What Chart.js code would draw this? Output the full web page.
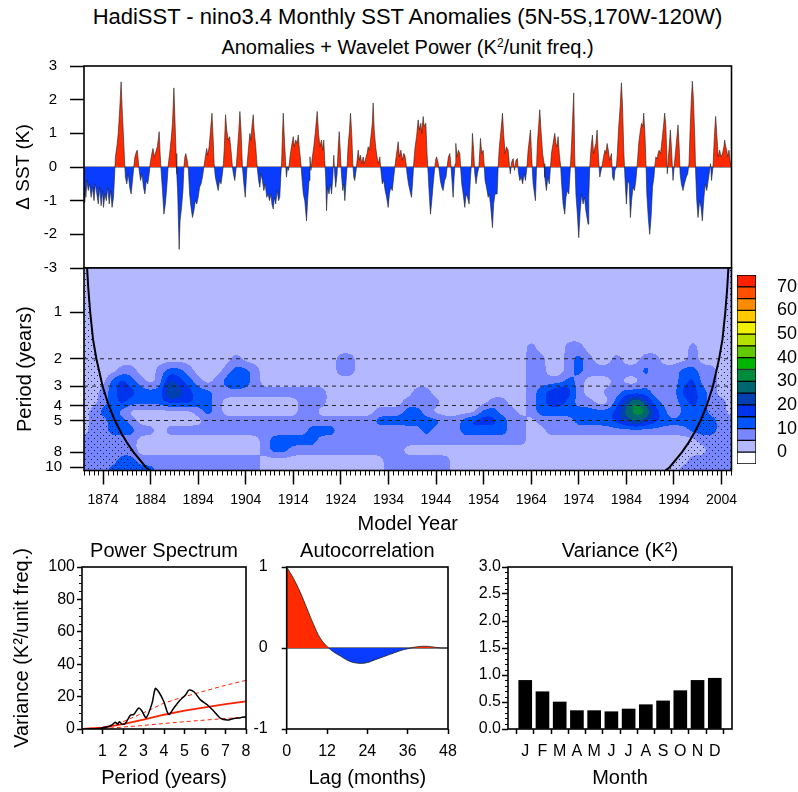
<!DOCTYPE html>
<html>
<head>
<meta charset="utf-8">
<script src="https://cdn.jsdelivr.net/npm/chart.js@4.4.1/dist/chart.umd.min.js"></script>
<style>
  body { margin: 0; background: #fff; width: 798px; height: 792px; position: relative; overflow: hidden;
         font-family: "Liberation Sans", Arial, Helvetica, sans-serif; }
  canvas { position: absolute; }
  .head { position: absolute; left: 0; width: 815px; text-align: center; white-space: nowrap; color: #000; }
  .head sup { font-size: 0.6em; vertical-align: 0.6em; line-height: 0; }
</style>
</head>
<body>
<div class="head" style="top:5px;font-size:22px;line-height:24px">HadiSST - nino3.4 Monthly SST Anomalies (5N-5S,170W-120W)</div>
<div class="head" style="top:36px;font-size:20px;line-height:22px">Anomalies + Wavelet Power (K<sup>2</sup>/unit freq.)</div>

<canvas id="anom" width="745" height="220" style="left:0;top:56px"></canvas>
<canvas id="wave" width="745" height="280" style="left:0;top:260px"></canvas>
<canvas id="cbar" width="68" height="204" style="left:730px;top:268px"></canvas>
<canvas id="spec" width="260" height="262" style="left:0;top:530px"></canvas>
<canvas id="acor" width="225" height="262" style="left:245px;top:530px"></canvas>
<canvas id="vari" width="338" height="262" style="left:460px;top:530px"></canvas>

<script>
// ---- data ----

// monthly SST anomaly (K), [year, value]
const anomalySeries = [
  [1870.0,-1.05],[1870.2,-0.6],[1870.4,-0.9],[1870.6,-0.4],[1870.9,-0.7],[1871.2,-0.5],[1871.5,-0.9],[1871.8,-0.6],
  [1872.1,-1.0],[1872.4,-0.5],[1872.7,-0.8],[1873.0,-1.1],[1873.3,-0.6],[1873.6,-1.15],[1873.9,-0.7],[1874.1,-1.2],
  [1874.4,-0.8],[1874.7,-1.0],[1875.0,-0.6],[1875.3,-1.1],[1875.6,-0.7],[1875.9,-1.2],[1876.2,-0.9],[1876.45,-0.2],
  [1876.6,0.3],[1876.9,0.6],[1877.2,1.0],[1877.5,1.7],[1877.8,2.53],[1878.0,1.8],[1878.3,0.9],[1878.55,0.1],
  [1878.7,-0.3],[1879.0,-0.5],[1879.3,-0.2],[1879.6,-0.6],[1879.9,-0.8],[1880.2,-0.4],[1880.5,0.05],[1880.7,0.3],
  [1881.0,0.45],[1881.2,0.5],[1881.4,0.2],[1881.6,-0.1],[1881.9,-0.4],[1882.2,-0.2],[1882.5,-0.6],[1882.8,-0.8],
  [1883.1,-0.4],[1883.4,-0.5],[1883.7,-0.2],[1883.9,0.1],[1884.2,0.35],[1884.5,0.55],[1884.8,0.3],[1885.1,0.45],
  [1885.4,0.6],[1885.6,0.8],[1885.8,1.05],[1886.0,0.4],[1886.2,-0.1],[1886.5,-0.7],[1886.8,-1.4],[1887.1,-1.1],
  [1887.4,-0.6],[1887.7,0.05],[1888.0,0.4],[1888.3,0.8],[1888.6,1.3],[1888.9,2.35],[1889.1,1.5],[1889.35,0.4],
  [1889.5,-0.2],[1889.7,-0.8],[1890.0,-2.45],[1890.2,-1.6],[1890.5,-1.2],[1890.8,-0.7],[1891.0,0.0],[1891.2,0.3],
  [1891.4,0.4],[1891.7,0.2],[1891.95,-0.1],[1892.2,-0.8],[1892.5,-1.2],[1892.8,-1.5],[1893.1,-1.3],[1893.4,-1.0],
  [1893.7,-1.1],[1894.0,-0.9],[1894.3,-0.6],[1894.6,-0.5],[1894.9,-0.3],[1895.2,0.0],[1895.5,0.3],[1895.8,0.55],
  [1896.0,0.35],[1896.3,0.6],[1896.6,1.1],[1896.9,1.6],[1897.1,1.0],[1897.35,0.1],[1897.6,-0.3],[1897.9,-0.5],
  [1898.2,-0.7],[1898.5,-0.4],[1898.8,-0.5],[1899.1,-0.2],[1899.3,0.1],[1899.5,0.6],[1899.75,1.55],[1900.0,1.1],
  [1900.3,0.8],[1900.6,0.9],[1900.9,0.5],[1901.2,0.0],[1901.4,-0.2],[1901.7,-0.4],[1902.0,0.0],[1902.3,0.6],
  [1902.55,1.1],[1902.77,1.65],[1903.0,1.1],[1903.3,0.0],[1903.6,-0.5],[1903.9,-0.9],[1904.1,-0.4],[1904.3,0.1],
  [1904.6,0.6],[1904.87,1.0],[1905.1,0.8],[1905.3,1.2],[1905.57,1.55],[1905.75,1.1],[1905.92,1.1],[1906.1,0.6],
  [1906.4,0.0],[1906.7,-0.4],[1906.97,-0.6],[1907.2,-0.2],[1907.5,-0.4],[1907.8,-0.7],[1908.1,-0.5],[1908.4,-0.9],
  [1908.7,-0.8],[1909.0,-1.0],[1909.3,-0.8],[1909.5,-1.1],[1909.78,-1.25],[1910.0,-0.9],[1910.3,-1.1],[1910.6,-0.7],
  [1910.9,-1.0],[1911.15,-0.9],[1911.4,-0.2],[1911.55,0.2],[1911.7,0.9],[1911.88,1.6],[1912.1,0.9],[1912.35,0.2],
  [1912.55,-0.3],[1912.8,0.0],[1913.0,-0.1],[1913.3,0.3],[1913.6,0.6],[1913.98,0.9],[1914.2,0.6],[1914.5,0.8],
  [1914.8,0.7],[1915.03,0.95],[1915.3,0.5],[1915.6,0.1],[1915.8,-0.3],[1916.1,-0.8],[1916.4,-1.0],[1916.78,-1.6],
  [1917.0,-1.0],[1917.3,-0.4],[1917.5,0.3],[1917.7,-0.1],[1918.0,0.3],[1918.3,0.6],[1918.6,1.0],[1919.02,1.65],
  [1919.3,1.0],[1919.6,0.6],[1919.9,0.8],[1920.2,0.5],[1920.4,0.8],[1920.6,0.2],[1920.8,-0.3],[1920.98,-1.3],
  [1921.2,-0.6],[1921.5,-0.8],[1921.8,-0.5],[1922.03,-0.8],[1922.3,-0.3],[1922.5,0.35],[1922.7,-0.2],[1922.9,-0.6],
  [1923.2,-0.2],[1923.4,0.5],[1923.64,1.05],[1923.9,0.4],[1924.1,-0.2],[1924.4,-0.7],[1924.6,-0.5],[1924.83,-1.0],
  [1925.0,-0.6],[1925.3,0.0],[1925.5,0.6],[1925.8,1.1],[1926.02,1.6],[1926.3,0.9],[1926.5,0.1],[1926.7,-0.3],
  [1926.9,-0.4],[1927.2,-0.1],[1927.4,0.2],[1927.63,0.5],[1927.9,0.2],[1928.1,0.35],[1928.4,0.1],[1928.68,0.3],
  [1928.9,0.1],[1929.2,0.25],[1929.5,0.4],[1929.73,0.6],[1930.0,0.5],[1930.3,0.9],[1930.6,1.3],[1930.78,1.9],
  [1931.0,1.1],[1931.3,0.6],[1931.6,0.3],[1931.9,0.1],[1932.18,0.3],[1932.4,-0.1],[1932.7,-0.5],[1933.0,-0.4],
  [1933.3,-0.7],[1933.6,-0.9],[1933.94,-1.2],[1934.2,-0.8],[1934.5,-0.6],[1934.8,-0.7],[1935.1,-0.3],[1935.34,0.0],
  [1935.6,0.3],[1935.8,0.5],[1936.04,0.75],[1936.3,0.3],[1936.6,0.5],[1936.9,0.2],[1937.2,0.4],[1937.44,0.35],
  [1937.7,0.1],[1937.9,-0.2],[1938.2,-0.5],[1938.5,-0.7],[1938.84,-0.9],[1939.1,-0.4],[1939.3,0.1],[1939.6,0.6],
  [1939.9,0.9],[1940.24,1.4],[1940.5,1.1],[1940.8,1.3],[1941.0,1.0],[1941.29,1.5],[1941.5,1.2],[1941.85,1.3],
  [1942.1,0.4],[1942.34,-0.2],[1942.6,-0.9],[1942.83,-1.4],[1943.1,-1.0],[1943.4,-0.5],[1943.74,0.0],[1943.9,0.2],
  [1944.1,0.3],[1944.4,0.15],[1944.65,-0.1],[1944.9,-0.4],[1945.2,-0.6],[1945.49,-0.7],[1945.8,-0.4],[1946.1,-0.3],
  [1946.4,0.1],[1946.6,0.3],[1946.89,0.4],[1947.1,0.1],[1947.3,-0.3],[1947.59,-0.9],[1947.8,-0.3],[1948.0,0.1],
  [1948.15,0.7],[1948.4,0.3],[1948.7,0.5],[1948.99,0.4],[1949.2,-0.1],[1949.4,-0.5],[1949.7,-0.8],[1950.04,-1.2],
  [1950.3,-0.8],[1950.6,-0.9],[1950.95,-1.1],[1951.2,-0.4],[1951.44,0.1],[1951.65,1.0],[1951.9,0.5],[1952.14,-0.2],
  [1952.4,-0.5],[1952.7,-0.2],[1953.0,0.0],[1953.34,0.85],[1953.6,0.4],[1953.9,0.5],[1954.1,0.1],[1954.3,-0.4],
  [1954.6,-0.6],[1954.95,-0.9],[1955.2,-0.8],[1955.5,-1.2],[1955.86,-1.8],[1956.1,-1.1],[1956.4,-0.8],[1956.84,-0.8],
  [1957.05,0.0],[1957.3,0.6],[1957.6,1.0],[1957.96,1.6],[1958.2,1.0],[1958.5,0.4],[1958.8,0.6],[1959.15,0.5],
  [1959.4,0.1],[1959.6,-0.2],[1959.9,0.15],[1960.2,0.25],[1960.5,-0.1],[1960.8,0.2],[1961.1,0.25],[1961.3,-0.15],
  [1961.6,-0.4],[1961.9,-0.3],[1962.2,-0.5],[1962.5,-0.2],[1962.8,-0.4],[1963.1,0.0],[1963.35,0.5],[1963.6,0.8],
  [1963.84,1.1],[1964.1,0.3],[1964.4,-0.5],[1964.89,-1.0],[1965.1,-0.1],[1965.3,0.7],[1965.55,1.2],[1965.8,1.7],
  [1966.1,1.0],[1966.4,0.4],[1966.7,0.1],[1966.85,-0.3],[1967.2,-0.7],[1967.5,-0.3],[1967.8,-0.5],[1968.0,-0.1],
  [1968.25,0.4],[1968.6,0.7],[1968.95,1.0],[1969.2,0.7],[1969.4,0.6],[1969.65,0.9],[1969.9,0.4],[1970.2,0.0],
  [1970.35,-0.4],[1970.7,-1.1],[1971.05,-1.4],[1971.3,-0.9],[1971.6,-0.7],[1971.9,-0.8],[1972.2,-0.1],[1972.45,0.6],
  [1972.7,1.4],[1972.94,2.2],[1973.15,0.3],[1973.4,-0.8],[1973.7,-1.4],[1973.99,-2.1],[1974.3,-1.3],[1974.6,-0.8],
  [1974.9,-1.1],[1975.2,-0.9],[1975.5,-1.3],[1975.95,-1.7],[1976.1,-0.9],[1976.3,0.0],[1976.6,0.6],[1976.87,0.95],
  [1977.1,0.4],[1977.4,0.6],[1977.6,0.7],[1977.85,1.1],[1978.1,0.4],[1978.41,-0.3],[1978.7,-0.1],[1978.97,0.1],
  [1979.2,0.3],[1979.5,0.5],[1979.7,0.4],[1979.95,0.7],[1980.2,0.5],[1980.5,0.2],[1980.86,0.4],[1981.1,-0.3],
  [1981.4,-0.4],[1981.6,-0.1],[1981.91,0.0],[1982.1,0.4],[1982.4,1.2],[1982.7,1.8],[1982.96,2.5],[1983.2,1.8],
  [1983.45,0.5],[1983.7,-0.3],[1984.01,-1.1],[1984.3,-0.4],[1984.6,-0.5],[1984.85,-1.5],[1985.1,-1.0],[1985.4,-0.6],
  [1985.7,-0.7],[1986.0,-0.4],[1986.3,0.1],[1986.6,0.7],[1986.95,1.1],[1987.2,1.3],[1987.45,1.2],[1987.65,1.6],
  [1987.9,1.0],[1988.1,0.2],[1988.3,-0.8],[1988.6,-1.5],[1988.91,-2.0],[1989.2,-1.5],[1989.5,-0.6],[1989.8,-0.3],
  [1989.96,0.0],[1990.2,0.3],[1990.5,0.25],[1990.66,0.4],[1990.9,0.5],[1991.2,0.4],[1991.5,0.8],[1991.8,1.2],
  [1992.06,1.6],[1992.3,1.2],[1992.5,0.4],[1992.6,-0.2],[1992.8,0.2],[1993.25,1.1],[1993.5,0.5],[1993.81,-0.4],
  [1994.1,0.1],[1994.5,0.7],[1994.86,1.25],[1995.1,0.6],[1995.3,-0.2],[1995.56,-0.5],[1995.91,-0.7],[1996.2,-0.5],
  [1996.6,-0.3],[1996.9,-0.2],[1997.17,0.1],[1997.4,1.1],[1997.65,2.0],[1997.87,2.55],[1998.1,2.0],[1998.4,0.8],
  [1998.57,-0.2],[1998.8,-1.0],[1999.06,-1.5],[1999.4,-1.0],[1999.7,-1.2],[1999.97,-1.6],[2000.3,-0.9],[2000.6,-0.5],
  [2000.9,-0.7],[2001.2,-0.4],[2001.5,-0.1],[2001.7,0.1],[2001.9,-0.4],[2002.21,0.0],[2002.5,0.9],[2002.77,1.5],
  [2003.0,1.0],[2003.3,0.3],[2003.61,0.5],[2003.9,0.3],[2004.2,0.4],[2004.5,0.6],[2004.66,0.8],[2004.9,0.6],
  [2005.1,0.5],[2005.3,0.3],[2005.57,0.5],[2005.8,0.2],[2006.0,0.0]
];

// wavelet power, one class per 2-year column (0: 0-5, 1: 5-10, 2: 10-15 ... K^2/unit freq.)
const powerYears = [1870,1872,1874,1876,1878,1880,1882,1884,1886,1888,1890,1892,1894,1896,1898,1900,1902,1904,1906,1908,
  1910,1912,1914,1916,1918,1920,1922,1924,1926,1928,1930,1932,1934,1936,1938,1940,1942,1944,1946,1948,
  1950,1952,1954,1956,1958,1960,1962,1964,1966,1968,1970,1972,1974,1976,1978,1980,1982,1984,1986,1988,
  1990,1992,1994,1996,1998,2000,2002,2004,2006];
const powerPeriods = [1.4, 1.7, 2.0, 2.4, 2.8, 3.3, 3.8, 4.4, 5.0, 5.8, 6.7, 7.8, 9.0, 10.5];
const powerClasses = [
  "0000000000 0000000000 0000000000 0000000000 0000000000 0000000000 000000000",
  "0000000000 0000000000 0000000000 0000000000 0000000100 0110000000 000010000",
  "0000000000 0000001000 0000000110 0000000000 0000000110 0121001001 100010000",
  "0000110012 2100012210 0000000110 0000000000 0000000110 0121111112 111221100",
  "0002321014 3210123210 0000000000 0000000000 0000000111 1210001001 111231100",
  "0012332225 4322111111 1111110000 0000011000 0000000123 4310011222 111332100",
  "0012322223 3322100000 0001110000 0000111100 0001100123 3211002464 211232110",
  "0122100000 0012100000 0001100000 0111221000 0022110122 2222223566 320222110",
  "0112210000 0001111111 1111111111 1222222211 2333211011 1122223454 322222211",
  "0112221101 1111111111 1111222111 1111112111 2222211001 1111111111 111122211",
  "1111110000 0000000001 2222211111 1111111111 1111111000 0000000000 000001111",
  "1111110000 0000000001 2211111111 1111000000 0000000000 0000000000 000000111",
  "1111221111 1111111110 0000000000 0011111110 0000000000 0000000000 000011111",
  "1112222211 1111111110 0000000000 0011111110 0000000000 0000000000 000111111"
];

// cone of influence
const coiLeftYear = [1870.0, 1870.65, 1870.9, 1871.3, 1871.9, 1872.6, 1873.9, 1875.2, 1876.5, 1877.8, 1879.1, 1880.4, 1883.0, 1883.9];
const coiLeftPeriod = [0.52, 0.52, 0.7, 1.0, 1.5, 2.0, 3.0, 4.0, 5.0, 6.0, 7.0, 8.0, 10.0, 10.5];
const coiRightYear = [1992.2, 1993.1, 1995.7, 1997.0, 1998.3, 1999.6, 2000.9, 2002.2, 2003.5, 2004.2, 2004.8, 2005.2, 2005.45, 2006.1];
const coiRightPeriod = [10.5, 10.0, 8.0, 7.0, 6.0, 5.0, 4.0, 3.0, 2.0, 1.5, 1.0, 0.7, 0.52, 0.52];
const dashedPeriods = [2, 3, 4, 5];

const yearTicks = [1874, 1884, 1894, 1904, 1914, 1924, 1934, 1944, 1954, 1964, 1974, 1984, 1994, 2004];
const periodTicks = [1, 2, 3, 4, 5, 8, 10];

// label bar
const levelEdges = [-5, 0, 5, 10, 15, 20, 25, 30, 35, 40, 45, 50, 55, 60, 65, 70, 75];
const levelColors = ['#ffffff', '#b4b9ff', '#7886ff', '#0055ff', '#0033ee', '#0040b0', '#006670', '#008c3c',
                     '#00b400', '#64c800', '#b4e000', '#f0f000', '#ffc800', '#ff8c00', '#ff5000', '#ff2000'];
const colorbarTicks = [0, 10, 20, 30, 40, 50, 60, 70];

// power spectrum
const specPeriod = [0.2, 0.6, 0.9, 1.2, 1.4, 1.55, 1.63, 1.74, 1.82, 1.95, 2.12, 2.36, 2.53, 2.77, 2.93, 3.13, 3.42,
                    3.58, 3.74, 3.99, 4.23, 4.48, 4.8, 5.05, 5.21, 5.46, 5.78, 6.11, 6.43, 6.76, 7.08, 7.41, 7.74, 8.0];
const specPower = [0, 0.1, 0.5, 1.2, 2.0, 3.5, 4.2, 3.0, 4.5, 3.0, 3.5, 8.5, 9.0, 13.0, 11.0, 7.0, 16.0,
                   25.0, 23.0, 17.0, 9.0, 13.0, 18.0, 21.0, 24.0, 23.0, 18.0, 15.0, 11.0, 6.5, 5.5, 6.5, 7.0, 7.5];
const noisePeriod = [0, 1, 2, 3, 4, 5, 6, 7, 8];
const noisePower = [0, 0.8, 3.0, 5.8, 8.8, 11.3, 13.4, 15.3, 17.0];
const noiseUpper = [0, 1.0, 4.5, 10.0, 16.0, 20.0, 23.5, 27.0, 30.0];
const noiseLower = [0, 0.2, 1.2, 2.2, 3.4, 4.5, 5.5, 6.5, 7.3];

// autocorrelation
const lagMonths = [0, 2, 4, 6, 8, 10, 12, 14, 16, 18, 20, 22, 24, 26, 28, 30, 32, 34, 36, 38, 40, 42, 44, 46, 48];
const autocorr = [1.0, 0.86, 0.69, 0.49, 0.29, 0.12, 0.02, -0.05, -0.10, -0.15, -0.18, -0.19, -0.18, -0.15, -0.12,
                  -0.09, -0.06, -0.03, -0.01, 0.01, 0.02, 0.02, 0.01, 0.0, 0.0];

// monthly variance
const monthLabels = ['J', 'F', 'M', 'A', 'M', 'J', 'J', 'A', 'S', 'O', 'N', 'D'];
const monthPos = [1, 2, 3, 4, 5, 6, 7, 8, 9, 10, 11, 12];
const monthVariance = [0.90, 0.69, 0.50, 0.34, 0.34, 0.32, 0.37, 0.45, 0.52, 0.71, 0.90, 0.94];

// ---- drawing ----
Chart.defaults.font.family = '"Liberation Sans", Arial, Helvetica, sans-serif';
Chart.defaults.color = '#000';
Chart.defaults.animation = false;
Chart.defaults.responsive = false;
Chart.defaults.plugins.legend.display = false;
Chart.defaults.plugins.tooltip.enabled = false;
Chart.defaults.elements.point.radius = 0;
Chart.defaults.elements.line.tension = 0;

const RED = '#ff2a00', BLUE = '#0a3cff';

function tickGrid(len) {
  return { display: true, drawOnChartArea: false, drawTicks: true, tickLength: len, tickColor: '#000', tickWidth: 1.5 };
}
function pts(xs, ys) { return xs.map((x, i) => ({ x: x, y: ys[i] })); }
function fixTicks(values) { return s => { s.ticks = values.map(v => ({ value: v })); }; }
// fixed axis sizes, without the extra room Chart.js keeps for end labels
function fitWidth(w) { return s => { s.width = w; s.paddingTop = 0; s.paddingBottom = 0; }; }
function fitHeight(h) { return s => { s.height = h; s.paddingLeft = 0; s.paddingRight = 0; }; }

const framePlugin = {
  id: 'frame',
  afterDraw(chart) {
    const { ctx, chartArea: a } = chart;
    ctx.save();
    ctx.strokeStyle = '#000';
    ctx.lineWidth = 1.6;
    ctx.strokeRect(a.left, a.top, a.right - a.left, a.bottom - a.top);
    ctx.restore();
  }
};

function makeMinorTicks(axis, values, len) {
  return {
    id: 'minor' + axis,
    afterDraw(chart) {
      const { ctx, chartArea: a } = chart;
      const s = chart.scales[axis];
      ctx.save();
      ctx.strokeStyle = '#000';
      ctx.lineWidth = 1;
      ctx.beginPath();
      values.forEach(v => {
        const p = Math.round(s.getPixelForValue(v)) + 0.5;
        if (axis === 'x') { ctx.moveTo(p, a.bottom); ctx.lineTo(p, a.bottom + len); }
        else { ctx.moveTo(a.left, p); ctx.lineTo(a.left - len, p); }
      });
      ctx.stroke();
      ctx.restore();
    }
  };
}
function steps(from, to, step, skip) {
  const out = [];
  for (let v = from; v <= to + 1e-9; v += step) {
    const r = Math.round(v * 1000) / 1000;
    if (!skip || Math.abs(r / skip - Math.round(r / skip)) > 1e-6) out.push(r);
  }
  return out;
}

// ---- 1. anomaly series ----
new Chart(document.getElementById('anom'), {
  type: 'line',
  data: {
    datasets: [
      { data: anomalySeries.map(p => ({ x: p[0], y: p[1] })), borderColor: '#222', borderWidth: 0.6,
        fill: { target: 'origin', above: RED, below: BLUE } },
      { data: [{ x: 1870, y: 0 }, { x: 2006.1, y: 0 }], borderColor: '#333', borderWidth: 1 }
    ]
  },
  options: {
    layout: { padding: { top: 10, right: 13.5, bottom: 8, left: 0 } },
    scales: {
      x: { type: 'linear', min: 1870, max: 2006.1, display: false },
      y: {
        min: -3, max: 3,
        ticks: { stepSize: 1, font: { size: 15 }, padding: 13 },
        grid: tickGrid(14), border: { display: false },
        title: { display: true, text: 'Δ SST (K)', font: { size: 19 }, padding: { top: 12, bottom: 0 } },
        afterFit: fitWidth(84)
      }
    }
  },
  plugins: [framePlugin]
});

// ---- 2. wavelet power ----
function rgb(hex) { return [1, 3, 5].map(i => parseInt(hex.substr(i, 2), 16)); }
const levelRGB = levelColors.map(rgb);
const classRows = powerClasses.map(r => r.replace(/ /g, '').split('').map(c => Number(c) * 5 + 2.5));

// running-mean pass over a pixel field, used to round off the contour edges
function boxPass(src, w, h, r, horizontal) {
  const out = new Float32Array(src.length);
  const n = horizontal ? w : h, m = horizontal ? h : w;
  for (let b = 0; b < m; b++) {
    for (let a = 0; a < n; a++) {
      let s = 0;
      for (let d = -r; d <= r; d++) {
        const q = Math.max(0, Math.min(n - 1, a + d));
        s += horizontal ? src[b * w + q] : src[q * w + b];
      }
      out[horizontal ? b * w + a : a * w + b] = s / (2 * r + 1);
    }
  }
  return out;
}

const powerPlugin = {
  id: 'power',
  beforeDatasetsDraw(chart) {
    const { ctx, chartArea: a, scales } = chart;
    const w = Math.round(a.right - a.left), h = Math.round(a.bottom - a.top);
    const logP = powerPeriods.map(Math.log);
    const nr = logP.length, nc = powerYears.length;
    const cols = [];
    for (let i = 0; i < w; i++) {
      let c = (scales.x.getValueForPixel(a.left + i + 0.5) - powerYears[0]) / (powerYears[1] - powerYears[0]);
      c = Math.max(0, Math.min(nc - 1, c));
      const c0 = Math.min(nc - 2, Math.floor(c));
      cols.push([c0, c - c0]);
    }
    let field = new Float32Array(w * h);
    for (let j = 0; j < h; j++) {
      const lp = Math.log(scales.y.getValueForPixel(a.top + j + 0.5));
      let r0 = 0, t = 0;
      if (lp >= logP[nr - 1]) { r0 = nr - 2; t = 1; }
      else if (lp > logP[0]) {
        while (lp > logP[r0 + 1]) r0++;
        t = (lp - logP[r0]) / (logP[r0 + 1] - logP[r0]);
      }
      const A = classRows[r0], B = classRows[r0 + 1];
      for (let i = 0; i < w; i++) {
        const c0 = cols[i][0], u = cols[i][1];
        const top = A[c0] * (1 - u) + A[c0 + 1] * u;
        const bot = B[c0] * (1 - u) + B[c0 + 1] * u;
        field[j * w + i] = top * (1 - t) + bot * t;
      }
    }
    for (let k = 0; k < 2; k++) {
      field = boxPass(field, w, h, 3, true);
      field = boxPass(field, w, h, 3, false);
    }
    const off = document.createElement('canvas');
    off.width = w; off.height = h;
    const octx = off.getContext('2d');
    const img = octx.createImageData(w, h);
    for (let p = 0; p < w * h; p++) {
      const c = levelRGB[Math.min(levelRGB.length - 1, Math.floor(field[p] / 5) + 1)];
      img.data[p * 4] = c[0]; img.data[p * 4 + 1] = c[1]; img.data[p * 4 + 2] = c[2]; img.data[p * 4 + 3] = 255;
    }
    octx.putImageData(img, 0, 0);
    ctx.drawImage(off, a.left, a.top);
  }
};

const waveCanvas = document.getElementById('wave');
const dots = document.createElement('canvas');
dots.width = 6; dots.height = 6;
const dctx = dots.getContext('2d');
dctx.fillStyle = 'rgba(0,0,0,0.8)';
dctx.fillRect(1, 1, 1, 1);
dctx.fillRect(4, 4, 1, 1);
const stipple = waveCanvas.getContext('2d').createPattern(dots, 'repeat');

const minorYears = steps(1870, 2006, 1, 0).filter(y => (y - 1874) % 10 !== 0);

new Chart(waveCanvas, {
  type: 'line',
  data: {
    datasets: [
      { data: pts(coiLeftYear, coiLeftPeriod), borderWidth: 2, fill: 'start', backgroundColor: stipple,
        segment: { borderColor: c => c.p0DataIndex === 0 ? 'rgba(0,0,0,0)' : '#000' } },
      { data: pts(coiRightYear, coiRightPeriod), borderWidth: 2, fill: 'start', backgroundColor: stipple,
        segment: { borderColor: c => c.p1DataIndex === coiRightYear.length - 1 ? 'rgba(0,0,0,0)' : '#000' } }
    ].concat(dashedPeriods.map(p => ({
      data: [{ x: 1870, y: p }, { x: 2006.1, y: p }], borderColor: '#222', borderWidth: 1, borderDash: [4, 4]
    })))
  },
  options: {
    layout: { padding: { top: 8, right: 13.5, bottom: 0, left: 0 } },
    scales: {
      x: {
        type: 'linear', min: 1870, max: 2006.1,
        afterBuildTicks: fixTicks(yearTicks),
        ticks: { font: { size: 14 }, padding: 7, autoSkip: false, maxRotation: 0, callback: v => String(v) },
        grid: tickGrid(14), border: { display: false },
        title: { display: true, text: 'Model Year', font: { size: 20 }, padding: { top: 0, bottom: 4 } },
        afterFit: fitHeight(69.5)
      },
      y: {
        type: 'logarithmic', reverse: true, min: 0.52, max: 10.5,
        afterBuildTicks: fixTicks(periodTicks),
        ticks: { font: { size: 15 }, padding: 8, autoSkip: false, callback: v => String(v) },
        grid: tickGrid(14), border: { display: false },
        title: { display: true, text: 'Period (years)', font: { size: 20 }, padding: { top: 13, bottom: 0 } },
        afterFit: fitWidth(84)
      }
    }
  },
  plugins: [powerPlugin, framePlugin, makeMinorTicks('x', minorYears, 5)]
});

// ---- label bar ----
new Chart(document.getElementById('cbar'), {
  type: 'bar',
  data: {
    labels: [''],
    datasets: levelColors.map((c, k) => ({
      data: [[levelEdges[k], levelEdges[k + 1]]], backgroundColor: c, borderColor: '#000', borderWidth: 1,
      borderSkipped: false, grouped: false, barPercentage: 1, categoryPercentage: 1
    }))
  },
  options: {
    layout: { padding: { left: 7, top: 7, bottom: 8, right: 0 } },
    scales: {
      x: { display: false },
      y: {
        position: 'right', min: -5, max: 75,
        afterBuildTicks: fixTicks(colorbarTicks),
        ticks: { font: { size: 18 }, padding: 21 },
        grid: { display: false, drawTicks: false }, border: { display: false },
        afterFit: fitWidth(42)
      }
    }
  }
});

// ---- bottom panels ----
function panelTitle(text) {
  return { display: true, text: text, fullSize: false, font: { size: 20, weight: 'normal' }, padding: { top: 9, bottom: 4 }, color: '#000' };
}
function xTitle(text) {
  return { display: true, text: text, font: { size: 20 }, padding: { top: 0, bottom: 2 } };
}

new Chart(document.getElementById('spec'), {
  type: 'line',
  data: {
    datasets: [
      { data: pts(specPeriod, specPower), borderColor: '#000', borderWidth: 1.5, tension: 0.3 },
      { data: pts(noisePeriod, noisePower), borderColor: '#ff2000', borderWidth: 1.8 },
      { data: pts(noisePeriod, noiseUpper), borderColor: '#ff2000', borderWidth: 1, borderDash: [4, 3] },
      { data: pts(noisePeriod, noiseLower), borderColor: '#ff2000', borderWidth: 1, borderDash: [4, 3] }
    ]
  },
  options: {
    layout: { padding: { top: 0, right: 14, bottom: 0, left: 0 } },
    plugins: { title: panelTitle('Power Spectrum') },
    scales: {
      x: {
        type: 'linear', min: 0, max: 8,
        ticks: { stepSize: 1, font: { size: 16 }, padding: 8, callback: v => v === 0 ? '' : String(v) },
        grid: tickGrid(5), border: { display: false },
        title: xTitle('Period (years)'),
        afterFit: fitHeight(63)
      },
      y: {
        min: 0, max: 100,
        ticks: { stepSize: 20, font: { size: 16 }, padding: 2 },
        grid: tickGrid(5), border: { display: false },
        title: { display: true, text: 'Variance (K²/unit freq.)', font: { size: 20 }, padding: { top: 10, bottom: 0 } },
        afterFit: fitWidth(82)
      }
    }
  },
  plugins: [framePlugin, makeMinorTicks('y', steps(0, 100, 5, 20), 3)]
});

new Chart(document.getElementById('acor'), {
  type: 'line',
  data: {
    datasets: [
      { data: pts(lagMonths, autocorr), borderColor: '#222', borderWidth: 0.8, tension: 0.4,
        fill: { target: 'origin', above: RED, below: BLUE } },
      { data: [{ x: 0, y: 0 }, { x: 48, y: 0 }], borderColor: '#000', borderWidth: 1 }
    ]
  },
  options: {
    layout: { padding: { top: 0, right: 22, bottom: 0, left: 0 } },
    plugins: { title: panelTitle('Autocorrelation') },
    scales: {
      x: {
        type: 'linear', min: 0, max: 48,
        ticks: { stepSize: 12, font: { size: 16 }, padding: 8 },
        grid: tickGrid(5), border: { display: false },
        title: xTitle('Lag (months)'),
        afterFit: fitHeight(63)
      },
      y: {
        min: -1, max: 1,
        ticks: { stepSize: 1, font: { size: 16 }, padding: 14 },
        grid: tickGrid(5), border: { display: false },
        afterFit: fitWidth(41.7)
      }
    }
  },
  plugins: [framePlugin]
});

new Chart(document.getElementById('vari'), {
  type: 'bar',
  data: {
    datasets: [
      { data: pts(monthPos, monthVariance), backgroundColor: '#000', borderWidth: 0, barThickness: 13 }
    ]
  },
  options: {
    layout: { padding: { top: 0, right: 66, bottom: 0, left: 0 } },
    plugins: { title: panelTitle('Variance (K²)') },
    scales: {
      x: {
        type: 'linear', min: 0, max: 13, offset: false,
        afterBuildTicks: fixTicks(monthPos),
        ticks: { font: { size: 16 }, padding: 8, autoSkip: false, callback: v => monthLabels[v - 1] || '' },
        grid: tickGrid(5), border: { display: false },
        title: xTitle('Month'),
        afterFit: fitHeight(63)
      },
      y: {
        min: 0, max: 3,
        ticks: { stepSize: 0.5, font: { size: 16 }, padding: 1, callback: v => v.toFixed(1) },
        grid: tickGrid(6), border: { display: false },
        afterFit: fitWidth(48)
      }
    }
  },
  plugins: [framePlugin, makeMinorTicks('y', steps(0, 3, 0.1, 0.5), 3)]
});
</script>
</body>
</html>
